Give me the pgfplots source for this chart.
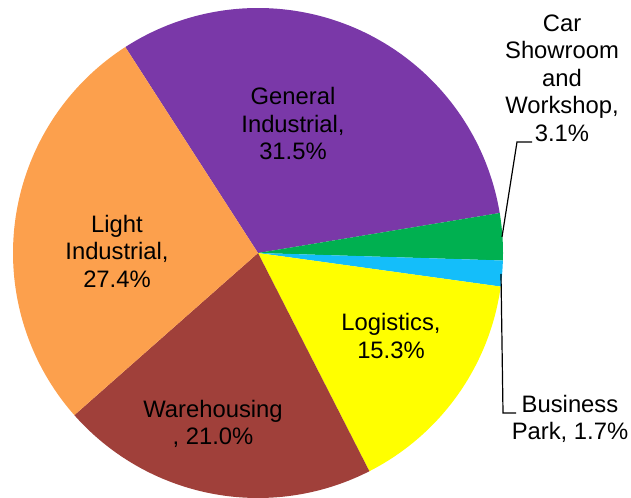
\documentclass[border=0pt]{standalone}
\usepackage{pgfplots}
\pgfplotsset{compat=1.18}
\usepackage{fontspec}
\setmainfont{Liberation Sans}

\definecolor{cGen}{RGB}{122,56,168}
\definecolor{cCar}{RGB}{0,176,80}
\definecolor{cBus}{RGB}{20,190,250}
\definecolor{cLog}{RGB}{255,255,0}
\definecolor{cWar}{RGB}{160,64,58}
\definecolor{cLig}{RGB}{252,160,77}

\tikzset{lbl/.style={font=\fontsize{23.8bp}{27.5bp}\selectfont, align=center, text=black, inner sep=0pt}}

\begin{document}
\begin{tikzpicture}
\begin{axis}[
  x=1bp, y=1bp,
  xmin=0, xmax=631, ymin=0, ymax=498,
  hide axis, clip=false,
]
% pie centre and radius (axis units = px)
\def\cx{258}\def\cy{245}\def\r{245}
\xdef\cum{122.8}
% shares in percent, clockwise
\foreach \v/\col in {31.5/cGen, 3.1/cCar, 1.7/cBus, 15.3/cLog, 21.0/cWar, 27.4/cLig}{
  \pgfmathsetmacro\a{\cum}
  \pgfmathsetmacro\b{\cum-3.6*\v}
  \edef\temp{\noexpand\addplot[fill=\col, draw=none, domain=\b:\a, samples=90, variable=\noexpand\t]
    ({\cx+\r*cos(\noexpand\t)},{\cy+\r*sin(\noexpand\t)}) -- (\cx,\cy) -- cycle;}
  \temp
  \xdef\cum{\b}
}

% labels
\node[lbl] at (293,374) {General\\Industrial,\\31.5\%};
\node[lbl] at (117,247) {Light\\Industrial,\\27.4\%};
\node[lbl] at (213,74) {Warehousing\\, 21.0\%};
\node[lbl] at (391,162) {Logistics,\\15.3\%};
\node[lbl] at (562,420) {Car\\Showroom\\and\\Workshop,\\3.1\%};
\node[lbl] at (570,79) {Business\\Park, 1.7\%};

% leader lines
\draw[black, line width=1.2bp] (502,261) -- (517,356) -- (532,356);
\draw[black, line width=1.2bp] (501,224) -- (503,85) -- (516,85);

\path (rel axis cs:0,0) rectangle (rel axis cs:1,1);
\end{axis}
\end{tikzpicture}
\end{document}
